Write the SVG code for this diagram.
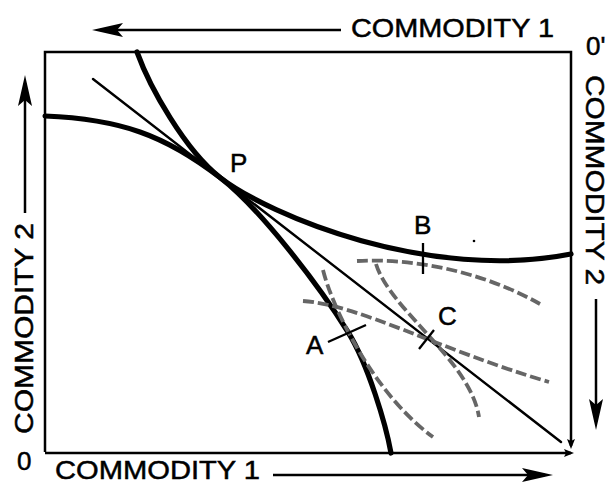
<svg xmlns="http://www.w3.org/2000/svg" width="609" height="485" viewBox="0 0 609 485">
<style>
text{font-family:"Liberation Sans",Arial,sans-serif;font-size:26px;fill:#000;stroke:#000;stroke-width:0.5}
.ax{stroke:#000;stroke-width:2.5;fill:none}
.thick{stroke:#000;stroke-width:5.2;fill:none;stroke-linecap:round}
.thin{stroke:#000;stroke-width:2.4;fill:none;stroke-linecap:round}
.dash{stroke:#666;stroke-width:3.8;fill:none;stroke-dasharray:11 4}
.tick{stroke:#000;stroke-width:2.3;fill:none}
</style>
<defs>
<marker id="big" markerUnits="userSpaceOnUse" markerWidth="40" markerHeight="20" viewBox="-35 -10 40 20" refX="-8" refY="0" orient="auto" overflow="visible">
<path d="M0,0 L-31,-7 L-25,0 L-31,7 Z" fill="#000"/>
</marker>
<marker id="small" markerUnits="userSpaceOnUse" markerWidth="14" markerHeight="10" viewBox="-12 -5 14 10" refX="-3" refY="0" orient="auto" overflow="visible">
<path d="M0,0 L-10,-4 L-8,0 L-10,4 Z" fill="#000"/>
</marker>
</defs>

<g id="frame">
<path class="ax" d="M45,452 L45,52 L571,52 L571,446" marker-end="url(#small)"/>
<path class="ax" d="M45,453 L571,453" marker-end="url(#small)"/>
</g>

<g id="axis-labels">
<g id="top-axis">
<line class="ax" x1="341" y1="30" x2="100" y2="30" marker-end="url(#big)"/>
<text x="351" y="37" textLength="203" lengthAdjust="spacingAndGlyphs">COMMODITY 1</text>
</g>
<g id="bottom-axis">
<text x="55" y="479" textLength="205" lengthAdjust="spacingAndGlyphs">COMMODITY 1</text>
<line class="ax" x1="273" y1="475" x2="545" y2="475" marker-end="url(#big)"/>
</g>
<g id="left-axis">
<text transform="translate(33,434) rotate(-90)" x="0" y="0" textLength="211" lengthAdjust="spacingAndGlyphs">COMMODITY 2</text>
<line class="ax" x1="25" y1="213" x2="25" y2="83" marker-end="url(#big)"/>
</g>
<g id="right-axis">
<text transform="translate(586,75) rotate(90)" x="0" y="0" textLength="210" lengthAdjust="spacingAndGlyphs">COMMODITY 2</text>
<line class="ax" x1="596" y1="299" x2="596" y2="422" marker-end="url(#big)"/>
</g>
<text id="origin" x="17" y="470">0</text>
<text id="origin-prime" x="586" y="55">0'</text>
</g>

<g id="connectors">
<path id="curve-1" class="thick" d="M45,116 C120,119 165,135 220,177.5 C270,216 430,282 571,254"/>
<path id="curve-2" class="thick" d="M137,52 C150,88 185,150 220,177.5 C260,208.5 318,284 348,332 C368,364 386,425 391,453"/>
<path id="tangent" class="thin" d="M93,79 L561,442"/>
<path id="dash-b" class="dash" d="M357,261 C410,258 480,270 540,304"/>
<path id="dash-c1" class="dash" d="M376,264 C390,310 470,360 479,417"/>
<path id="dash-c2" class="dash" d="M303,301 C360,305 440,350 549,382"/>
<path id="dash-a" class="dash" d="M323,270 C333,310 375,395 433,437"/>
</g>

<g id="point-P"><text x="230" y="172">P</text></g>
<g id="point-A">
<line class="tick" x1="328" y1="342" x2="366" y2="325"/>
<text x="306" y="354">A</text>
</g>
<g id="point-B">
<line class="tick" x1="423" y1="243" x2="423" y2="274"/>
<text x="414" y="234">B</text>
</g>
<g id="point-C">
<line class="tick" x1="419" y1="349" x2="434" y2="330"/>
<text x="438" y="325">C</text>
</g>
<circle cx="474" cy="241" r="1.3" fill="#000"/>
</svg>
